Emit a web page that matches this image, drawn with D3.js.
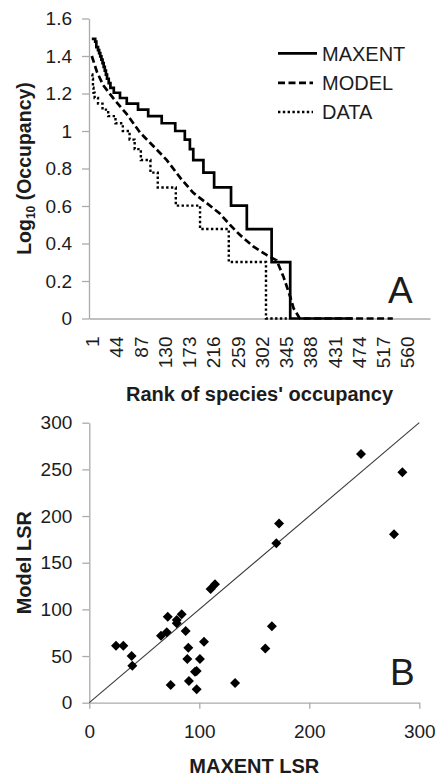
<!DOCTYPE html>
<html>
<head>
<meta charset="utf-8">
<script src="https://cdn.jsdelivr.net/npm/d3@7/dist/d3.min.js"></script>
<style>
  body { margin: 0; background: #ffffff; }
  svg { display: block; }
  text { font-family: "Liberation Sans", Arial, Helvetica, sans-serif; }
</style>
</head>
<body>
<script>
// ---------------- Panel A data ----------------
// rank where each occupancy level starts (step function), occupancy value
const maxentRank = [1, 7, 9, 12, 14, 16, 18, 20, 22, 24, 26, 28, 31, 34, 40, 51, 63, 83, 101, 125, 149, 166, 175, 181, 199, 218, 248, 276, 320, 353];
const maxentOcc  = [31, 30, 28, 27, 26, 25, 24, 23, 22, 21, 20, 19, 18, 17, 16, 15, 14, 13, 12, 11, 10, 9, 8, 7, 6, 5, 4, 3, 2, 1];
const maxentLastRank = 464;

const modelRank = [1, 10, 21, 39, 63, 87, 110, 134, 158, 181, 205, 228, 246, 264, 288, 311, 329, 341, 353, 359, 370, 535];
const modelLog  = [1.40, 1.316, 1.245, 1.175, 1.09, 0.99, 0.92, 0.845, 0.75, 0.67, 0.615, 0.56, 0.50, 0.445, 0.383, 0.339, 0.31, 0.223, 0.116, 0.054, 0, 0];

const dataRank = [1, 2, 3, 4, 6, 12, 20, 30, 43, 56, 68, 77, 88, 105, 118, 150, 193, 244, 310];
const dataOcc  = [20, 19, 17, 16, 15, 14, 13, 12, 11, 10, 9, 8, 7, 6, 5, 4, 3, 2, 1];
const dataLastRank = 347;

const rankTicks = [1, 44, 87, 130, 173, 216, 259, 302, 345, 388, 431, 474, 517, 560];
const occTicks = [0, 0.2, 0.4, 0.6, 0.8, 1, 1.2, 1.4, 1.6];
const occTickLabels = ["0", "0.2", "0.4", "0.6", "0.8", "1", "1.2", "1.4", "1.6"];
const seriesNames = ["MAXENT", "MODEL", "DATA"];

// ---------------- Panel B data ----------------
const maxentLSR = [24.3, 30.9, 38.5, 39.1, 65.2, 70.4, 71.3, 79.5, 79.5, 84, 87.6, 90, 89.1, 104.3, 100.6, 96.1, 97.6, 74, 90.6, 97.6, 110.3, 114.3, 132.5, 160, 166, 172.5, 170, 247, 284.6, 277];
const modelLSR  = [61.1, 61.1, 50, 39.6, 71.8, 75.4, 92.1, 88.6, 85, 94.7, 76.8, 58.9, 46.8, 65.4, 46.8, 33.2, 34, 19, 23.2, 14.4, 121.8, 126.8, 21, 58, 82, 192, 170.8, 266.5, 246.9, 180.4];
const lsrTicksY = [0, 50, 100, 150, 200, 250, 300];
const lsrTicksX = [0, 100, 200, 300];
const identityLine = [0, 300];

// ---------------- drawing ----------------
const W = 437, H = 777;
const svg = d3.select("body").append("svg").attr("width", W).attr("height", H);

const axisColor = "#ababab";
const textColor = "#1c1c1c";
const tickFont = 19;

function styleAxis(g) {
  g.select(".domain").attr("stroke", axisColor).attr("stroke-width", 1.3);
  g.selectAll(".tick line").attr("stroke", axisColor).attr("stroke-width", 1.3);
  g.selectAll(".tick text").attr("fill", textColor).style("font-size", tickFont + "px")
    .style("font-family", "'Liberation Sans', Arial, sans-serif");
}

// Panel A scales
const xA = d3.scaleLinear().domain([-4, 601]).range([89, 430]);
const yA = d3.scaleLinear().domain([0, 1.6]).range([318.5, 18.5]);

// axes A
const gyA = svg.append("g").attr("transform", `translate(${xA.range()[0]},0)`)
  .call(d3.axisLeft(yA).tickValues(occTicks).tickFormat((d, i) => occTickLabels[i]).tickSize(7).tickSizeOuter(0).tickPadding(10));
styleAxis(gyA);

const gxA = svg.append("g").attr("transform", `translate(0,${yA(0)})`)
  .call(d3.axisBottom(xA).tickValues(rankTicks).tickSize(0).tickSizeOuter(0).tickPadding(0));
styleAxis(gxA);
gxA.selectAll(".tick text")
  .attr("transform", "rotate(-90)")
  .attr("text-anchor", "end")
  .attr("x", -18).attr("y", 0).attr("dy", "0.36em");

// series A
function stepPoints(ranks, occ, lastRank) {
  const pts = ranks.map((r, i) => [r, Math.log10(occ[i])]);
  pts.push([lastRank, Math.log10(occ[occ.length - 1])]);
  return pts;
}
const lineStep = d3.line().x(d => xA(d[0])).y(d => yA(d[1])).curve(d3.curveStepAfter);
const lineLin = d3.line().x(d => xA(d[0])).y(d => yA(d[1]));

const styles = {
  MAXENT: { dash: null, width: 2.7 },
  MODEL: { dash: "7,3.5", width: 2.7 },
  DATA: { dash: "2.4,2.4", width: 2.4 }
};

svg.append("path").datum(stepPoints(dataRank, dataOcc, dataLastRank))
  .attr("d", lineStep).attr("fill", "none").attr("stroke", "#000")
  .attr("stroke-width", styles.DATA.width).attr("stroke-dasharray", styles.DATA.dash);

svg.append("path").datum(modelRank.map((r, i) => [r, modelLog[i]]))
  .attr("d", lineLin).attr("fill", "none").attr("stroke", "#000")
  .attr("stroke-width", styles.MODEL.width).attr("stroke-dasharray", styles.MODEL.dash);

svg.append("path").datum(stepPoints(maxentRank, maxentOcc, maxentLastRank))
  .attr("d", lineStep).attr("fill", "none").attr("stroke", "#000")
  .attr("stroke-width", styles.MAXENT.width).attr("stroke-linejoin", "miter");

// legend A
const legY = [53.3, 82.8, 112];
const leg = svg.append("g");
seriesNames.forEach((name, i) => {
  leg.append("line").attr("x1", 278).attr("x2", name === "MAXENT" ? 317 : 313)
    .attr("y1", legY[i]).attr("y2", legY[i]).attr("stroke", "#000")
    .attr("stroke-width", styles[name].width).attr("stroke-dasharray", styles[name].dash);
  leg.append("text").attr("x", 322).attr("y", legY[i]).attr("dy", "0.36em")
    .style("font-size", "20px").attr("fill", textColor).text(name);
});

// labels A
svg.append("text").attr("x", 388).attr("y", 303).style("font-size", "37px").attr("fill", textColor).text("A");
const ylabA = svg.append("text").attr("transform", `translate(31,${(yA(0) + yA(1.6)) / 2}) rotate(-90)`)
  .attr("text-anchor", "middle").style("font-size", "19.5px").style("font-weight", "bold").attr("fill", textColor);
ylabA.append("tspan").text("Log");
ylabA.append("tspan").text("10").style("font-size", "12px").attr("dy", "4");
ylabA.append("tspan").text(" (Occupancy)").attr("dy", "-4");

svg.append("text").attr("x", (xA.range()[0] + xA.range()[1]) / 2).attr("y", 400.5)
  .attr("text-anchor", "middle").style("font-size", "20px").style("font-weight", "bold").attr("fill", textColor)
  .text("Rank of species' occupancy");

// Panel B scales
const xB = d3.scaleLinear().domain([0, 300]).range([89.3, 419.3]);
const yB = d3.scaleLinear().domain([0, 300]).range([702.7, 422.7]);

const gyB = svg.append("g").attr("transform", `translate(${xB(0)},0)`)
  .call(d3.axisLeft(yB).tickValues(lsrTicksY).tickSize(7).tickSizeOuter(0).tickPadding(10));
styleAxis(gyB);
const gxB = svg.append("g").attr("transform", `translate(0,${yB(0)})`)
  .call(d3.axisBottom(xB).tickValues(lsrTicksX).tickSize(6).tickSizeOuter(0).tickPadding(16));
styleAxis(gxB);

svg.append("line")
  .attr("x1", xB(identityLine[0])).attr("y1", yB(identityLine[0]))
  .attr("x2", xB(identityLine[1])).attr("y2", yB(identityLine[1]))
  .attr("stroke", "#3a3a3a").attr("stroke-width", 1.1);

const diamond = d3.symbol().type(d3.symbolSquare).size(50);
svg.append("g").selectAll("path").data(maxentLSR.map((v, i) => [v, modelLSR[i]]))
  .join("path")
  .attr("d", diamond)
  .attr("transform", d => `translate(${xB(d[0])},${yB(d[1])}) rotate(45)`)
  .attr("fill", "#000");

svg.append("text").attr("x", 390).attr("y", 685).style("font-size", "37px").attr("fill", textColor).text("B");
svg.append("text").attr("transform", `translate(31,${(yB(0) + yB(300)) / 2}) rotate(-90)`)
  .attr("text-anchor", "middle").style("font-size", "20px").style("font-weight", "bold").attr("fill", textColor)
  .text("Model LSR");
svg.append("text").attr("x", (xB(0) + xB(300)) / 2).attr("y", 773)
  .attr("text-anchor", "middle").style("font-size", "20px").style("font-weight", "bold").attr("fill", textColor)
  .text("MAXENT LSR");
</script>
</body>
</html>
